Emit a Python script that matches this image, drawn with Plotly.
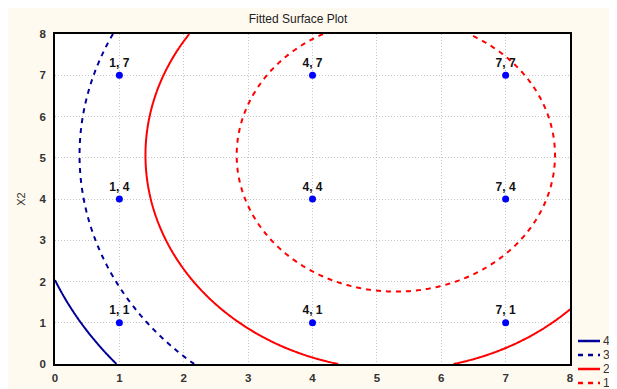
import numpy as np
import plotly.graph_objects as go

# Design points (X1, X2) and estimated response values at each point
x_pts = [1, 1, 1, 4, 4, 4, 7, 7, 7]
y_pts = [1, 4, 7, 1, 4, 7, 1, 4, 7]
z_pts = [3.39, 2.44, 2.60, 1.53, 0.58, 0.74, 1.67, 0.71, 0.88]
point_labels = [f"{a}, {b}" for a, b in zip(x_pts, y_pts)]

# Contour levels and styles (legend order top to bottom)
levels = [4, 3, 2, 1]
level_colors = ["#000099", "#000099", "#FF0000", "#FF0000"]
level_dash = ["solid", "5px,5px", "solid", "5px,5px"]

tick_vals = [0, 1, 2, 3, 4, 5, 6, 7, 8]

# Quadratic fitted surface (least squares on the design points)
X = np.array(x_pts, float)
Y = np.array(y_pts, float)
A = np.column_stack([np.ones_like(X), X, Y, X**2, X * Y, Y**2])
coef, *_ = np.linalg.lstsq(A, np.array(z_pts, float), rcond=None)
gx = np.linspace(0, 8, 241)
gy = np.linspace(0, 8, 241)
GX, GY = np.meshgrid(gx, gy)
GZ = (coef[0] + coef[1] * GX + coef[2] * GY + coef[3] * GX**2
      + coef[4] * GX * GY + coef[5] * GY**2)

FONT = "Arial, Liberation Sans, sans-serif"
fig = go.Figure()
for lvl, col, dsh in zip(levels, level_colors, level_dash):
    fig.add_trace(go.Contour(
        x=gx, y=gy, z=GZ, showscale=False, showlegend=False, hoverinfo="skip",
        contours=dict(start=lvl, end=lvl, size=1, coloring="none"),
        line=dict(color=col, width=2, dash=dsh, smoothing=1),
    ))

fig.add_trace(go.Scatter(
    x=x_pts, y=y_pts, mode="markers+text", text=point_labels,
    textposition="top center", showlegend=False,
    marker=dict(color="#0000FF", size=7),
    textfont=dict(family=FONT, size=12, color="#111111", weight="bold"),
))

# Geometry: page offset of the figure (body margin) and plot area in page pixels
OX, OY = 8, 8
W, H = 617, 389
PL, PR, PT, PB = 55, 570, 34, 364          # plot area edges in page pixels
L, T = PL - OX, PT - OY
pw, ph = PR - PL, PB - PT
R, B = W - L - pw, H - T - ph

def px(p):
    return (p - PL) / pw

def py(p):
    return (PB - p) / ph

shapes = []
annotations = []
for i, (lvl, col, dsh) in enumerate(zip(levels, level_colors, level_dash)):
    yy = 341 + i * 14
    shapes.append(dict(type="line", xref="paper", yref="paper", x0=px(578), x1=px(600),
                       y0=py(yy), y1=py(yy), line=dict(color=col, width=2.5, dash=dsh)))
    annotations.append(dict(xref="paper", yref="paper", x=px(601), y=py(yy), text=str(lvl),
                            showarrow=False, xanchor="left", yanchor="middle",
                            font=dict(family=FONT, size=12, color="#333333")))

axis_common = dict(
    range=[0, 8], tickvals=tick_vals, showgrid=True, gridcolor="#C4C4C4", griddash="1px,2px",
    gridwidth=1, zeroline=False, showline=True, mirror=True, linecolor="black", linewidth=1.5,
    ticks="", automargin=False,
    tickfont=dict(family=FONT, size=11.5, color="#333333", weight="bold"),
)
fig.update_layout(
    width=W, height=H, margin=dict(l=L, r=R, t=T, b=B),
    paper_bgcolor="#FFFAF0", plot_bgcolor="white",
    title=dict(text="Fitted Surface Plot", x=(298 - OX) / W, xanchor="center",
               y=1 - (19 - OY) / H, yanchor="middle",
               font=dict(family=FONT, size=12, color="#222222")),
    xaxis=dict(**axis_common, ticklabelstandoff=2),
    yaxis=dict(**axis_common, ticklabelstandoff=5,
               title=dict(text="X2", standoff=12, font=dict(family=FONT, size=11, color="#333333"))),
    shapes=shapes, annotations=annotations, showlegend=False,
)
fig.write_html("out.html")
